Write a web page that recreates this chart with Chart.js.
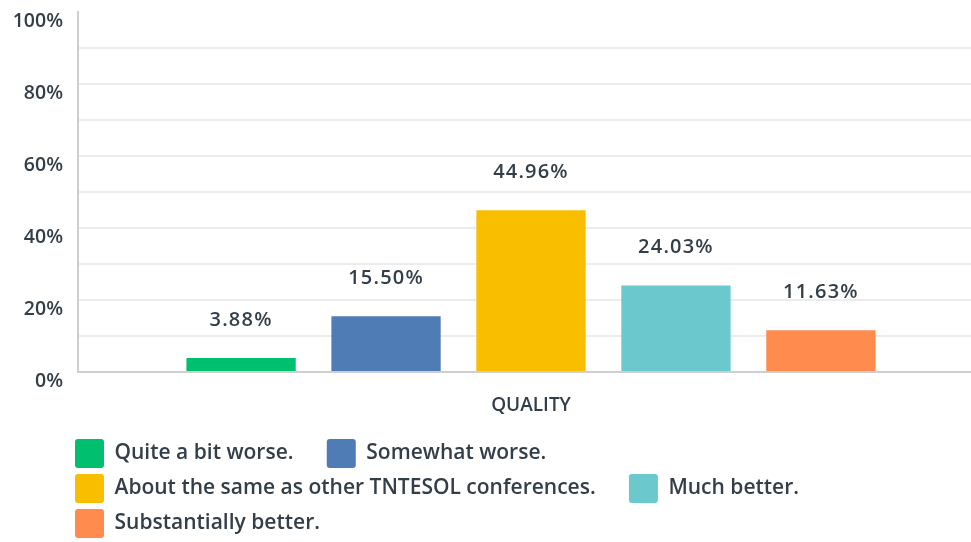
<!DOCTYPE html>
<html>
  <head>
    <meta charset="utf-8">
    <title>Quality</title>
    <script src="https://cdn.jsdelivr.net/npm/chart.js@4.4.1/dist/chart.umd.min.js"></script>
    <style>
      body { margin: 0; background: #ffffff; }
      #chartdiv { width: 971px; height: 542px; }
    </style>
  </head>
  <body>
    <div id="chartdiv">
      <canvas id="myChart"></canvas>
    </div>
    <script>
      var categories = ['QUALITY'];
      var answers = ['Quite a bit worse.', 'Somewhat worse.', 'About the same as other TNTESOL conferences.', 'Much better.', 'Substantially better.'];
      var percents = [3.88, 15.50, 44.96, 24.03, 11.63];
      var colors = ['#00bf6f', '#507cb6', '#f9be00', '#6bc8cd', '#ff8b4f'];
      var yTicks = [0, 20, 40, 60, 80, 100];

      var textColor = '#333e48';
      var fontName = '"Open Sans", sans-serif';

      // value labels above each bar
      var valueLabels = {
        id: 'valueLabels',
        afterDatasetsDraw: function(chart) {
          var ctx = chart.ctx;
          ctx.save();
          ctx.font = '600 20px ' + fontName;
          ctx.letterSpacing = '1.2px';
          ctx.fillStyle = textColor;
          ctx.textAlign = 'center';
          ctx.textBaseline = 'middle';
          chart.data.datasets.forEach(function(ds, i) {
            var bar = chart.getDatasetMeta(i).data[0];
            ctx.fillText(ds.data[0].toFixed(2) + '%', bar.x, bar.y - 38);
          });
          ctx.restore();
        }
      };

      // nudge the plot area and legend to where the survey chart puts them
      var placeBoxes = {
        id: 'placeBoxes',
        afterLayout: function(chart) {
          var area = chart.chartArea;
          area.top = 12;
          area.right = 984;
          area.width = area.right - area.left;
          area.height = area.bottom - area.top;
          var xs = chart.scales.x;
          xs.right = 984;
          xs.width = xs.right - xs.left;
          xs.configure();
          var ys = chart.scales.y;
          ys.top = 12;
          ys.height = ys.bottom - ys.top;
          ys.configure();
          chart.legend.left = 69;
          chart.legend.top += 6;
          chart.legend.bottom += 6;
        }
      };

      var datasets = [];
      for (var i = 0; i < answers.length; i++) {
        datasets.push({
          label: answers[i],
          data: [percents[i]],
          backgroundColor: colors[i],
          borderWidth: 0,
          barPercentage: 0.754,
          categoryPercentage: 0.8
        });
      }

      var ctx = document.getElementById('myChart').getContext('2d');
      var myChart = new Chart(ctx, {
        type: 'bar',
        data: { labels: categories, datasets: datasets },
        plugins: [valueLabels, placeBoxes],
        options: {
          responsive: true,
          maintainAspectRatio: false,
          animation: false,
          plugins: {
            tooltip: { enabled: false },
            legend: {
              position: 'bottom',
              align: 'start',
              labels: {
                boxWidth: 29,
                boxHeight: 29,
                padding: 6,
                useBorderRadius: true,
                borderRadius: 3,
                color: textColor,
                font: { family: fontName, size: 21, weight: '600' },
                generateLabels: function(chart) {
                  return chart.data.datasets.map(function(ds, i) {
                    return {
                      text: ds.label + '     ',
                      fillStyle: ds.backgroundColor,
                      strokeStyle: ds.backgroundColor,
                      lineWidth: 0,
                      borderRadius: 3,
                      fontColor: textColor,
                      datasetIndex: i
                    };
                  });
                }
              }
            }
          },
          scales: {
            x: {
              grid: { display: false, drawTicks: false },
              border: { color: '#cfcfcf', width: 2 },
              ticks: { color: textColor, padding: 22, font: { family: fontName, size: 19, weight: '600' } },
              afterFit: function(scale) { scale.height = 55; }
            },
            y: {
              min: 0,
              max: 100,
              border: { color: '#cfcfcf', width: 2 },
              grid: {
                drawTicks: false,
                lineWidth: 2,
                color: function(c) { return (c.tick && c.tick.value === 100) ? 'rgba(0,0,0,0)' : '#ececec'; }
              },
              ticks: {
                stepSize: 10,
                padding: 15,
                labelOffset: 9,
                color: textColor,
                font: { family: fontName, size: 19.5, weight: '600' },
                callback: function(v) { return yTicks.indexOf(v) >= 0 ? v + '%' : ''; }
              },
              afterFit: function(scale) { scale.width = 78; }
            }
          }
        }
      });
    </script>
  </body>
</html>
